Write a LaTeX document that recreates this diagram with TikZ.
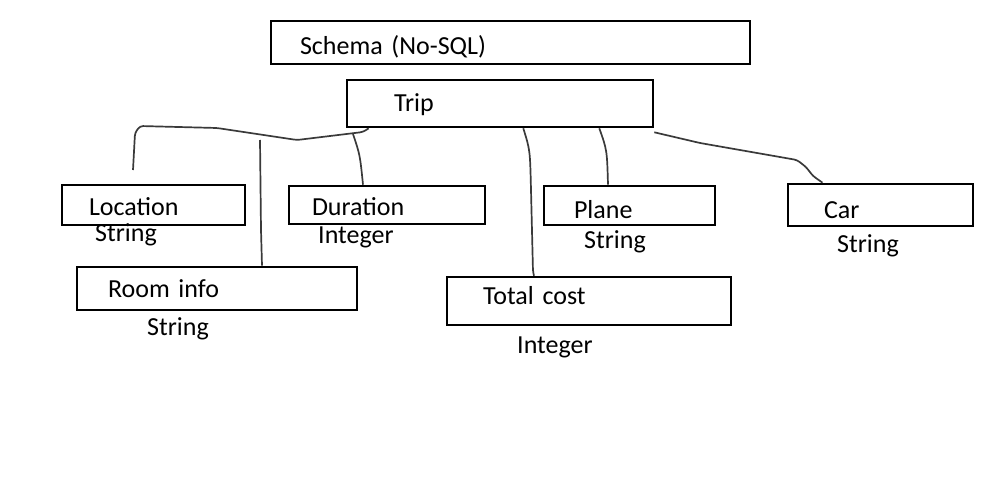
\documentclass[tikz,border=0pt]{standalone}
\usepackage{fontspec}
\setmainfont{Carlito}
\usepackage{tikz}
\usepackage{xcolor}
\definecolor{pen}{HTML}{3A3A3A}

\begin{document}
\begin{tikzpicture}[x=1pt, y=-1pt,
    box/.style={draw, line width=2.6pt, align=left, minimum height=#1, inner ysep=0pt, text depth=0pt},
    box/.default=40pt,
    type/.style={anchor=west, inner sep=0pt},
    wire/.style={draw=pen, line width=1.7pt, rounded corners=3pt},
    every node/.style={font=\fontsize{26pt}{30pt}\selectfont}]
    \useasboundingbox (0,0) rectangle (1000,500);

    % Boxes
    \node[box=43pt, text height=25pt, text width=421pt, inner xsep=29pt] (schema) at (510.5,42.5) {Schema (No-SQL)};
    \node[box=47pt, text height=17pt, text width=212pt, inner xsep=47pt] (trip) at (500,103.5) {Trip};
    \node[box=40pt, text height=20pt, text width=129pt, inner xsep=27pt] (location) at (153.5,205) {Location};
    \node[box=38pt, text height=20pt, text width=150pt, inner xsep=23pt] (duration) at (387,205) {Duration};
    \node[box=39pt, text height=25pt, text width=111pt, inner xsep=30pt] (plane) at (629.5,205.5) {Plane};
    \node[box=42pt, text height=26pt, text width=113pt, inner xsep=36pt] (car) at (880.5,205) {Car};
    \node[box=43pt, text height=17pt, text width=218pt, inner xsep=31pt] (room) at (217,288.5) {Room info};
    \node[box=48pt, text height=6pt, text width=212pt, inner xsep=36pt] (total) at (589,301) {Total cost};

    % Types
    \node[type] (locationtype) at (95,235) {String};
    \node[type] (durationtype) at (318,237) {Integer};
    \node[type] (planetype) at (584,242) {String};
    \node[type] (cartype) at (837,246) {String};
    \node[type] (roomtype) at (147,329) {String};
    \node[type] (totaltype) at (517,347) {Integer};

    % Connectors
    \coordinate (locend) at (133,170);
    \coordinate (durstart) at (353,134);
    \coordinate (roomstart) at (260,140);
    \draw[wire] ([xshift=23pt]trip.south west) -- (363,132) -- (297,140) -- (217,128)
        -- (140,126) -- (135,133) -- (locend);
    \draw[wire] (durstart) .. controls (360,155) .. ([xshift=-24pt]duration.north);
    \draw[wire] (roomstart) -- (261,230) -- ([xshift=45pt]room.north);
    \draw[wire] ([xshift=-131pt]trip.south east) .. controls (530,150) .. (531,190)
        -- (533,272) -- ([xshift=-55pt]total.north);
    \draw[wire] ([xshift=-55pt]trip.south east) .. controls (607,150) .. ([xshift=-21.5pt]plane.north);
    \draw[wire] ([yshift=-4pt]trip.south east) -- (700,143) -- (797,160) -- (806,167)
        -- (813,176) -- ([xshift=-58pt]car.north);
\end{tikzpicture}
\end{document}
